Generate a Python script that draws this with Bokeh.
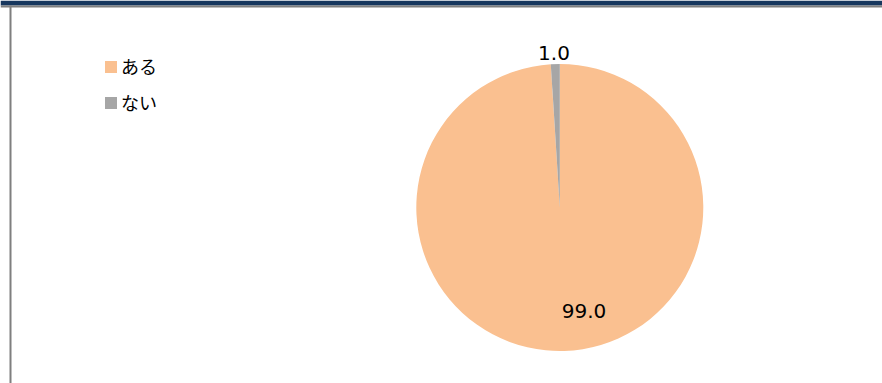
import numpy as np
from bokeh.plotting import figure
from bokeh.models import ColumnDataSource, Range1d, Legend, LegendItem
from bokeh.core.properties import value
from bokeh.embed import file_html
from bokeh.resources import INLINE

# ---- data ----
categories = ["ある", "ない"]
values = [99.0, 1.0]
colors = ["#FAC090", "#A6A6A6"]
labels = ["99.0", "1.0"]

# ---- layout constants (pixels, y from top) ----
W, H = 882, 383
CX, CY, R = 559.3, 207.0, 143.5
label_pos = [(583.5, 310.0), (553.5, 52.5)]

vals = np.array(values, dtype=float)
frac = vals / vals.sum()
cum = np.concatenate([[0.0], np.cumsum(frac)])
start = np.pi / 2 - cum[:-1] * 2 * np.pi
end = np.pi / 2 - cum[1:] * 2 * np.pi

src = ColumnDataSource(dict(
    cat=categories, val=values, color=colors,
    start=start, end=end,
    x=[CX] * len(values), y=[H - CY] * len(values),
))

p = figure(width=W, height=H, x_range=Range1d(0, W), y_range=Range1d(0, H),
           x_axis_type=None, y_axis_type=None, toolbar_location=None,
           output_backend="svg", min_border=0, outline_line_color=None,
           background_fill_color="white", border_fill_color="white")
p.grid.visible = False

# frame decorations: top navy band, gray rule, left gray line
p.quad(left=[0], right=[W], top=[H], bottom=[H - 5], fill_color="#17375E", line_color=None)
p.quad(left=[0], right=[W], top=[H - 5], bottom=[H - 7], fill_color="#7F7F7F", line_color=None)
p.quad(left=[9], right=[11], top=[H - 5], bottom=[0], fill_color="#7F7F7F", line_color=None)

r = p.wedge(x="x", y="y", radius=R, start_angle="start", end_angle="end",
            direction="clock", fill_color="color", line_color=None, source=src)

lsrc = ColumnDataSource(dict(
    text=labels,
    x=[lp[0] for lp in label_pos],
    y=[H - lp[1] for lp in label_pos],
))
p.text(x="x", y="y", text="text", source=lsrc, text_align="center",
       text_baseline="middle", text_font=value("DejaVu Sans"),
       text_font_size="20px", text_color="#000000")

legend = Legend(items=[LegendItem(label=categories[i], renderers=[r], index=i)
                       for i in range(len(categories))],
                location=(103, 268), orientation="vertical",
                padding=0, margin=0, spacing=10,
                glyph_width=15, glyph_height=15, label_height=15,
                label_standoff=3,
                label_text_font="Noto Sans CJK JP", label_text_font_size="18px",
                label_text_color="#000000",
                border_line_color=None, background_fill_alpha=0)
p.add_layout(legend)

open("out.html", "w").write(file_html(p, INLINE))
